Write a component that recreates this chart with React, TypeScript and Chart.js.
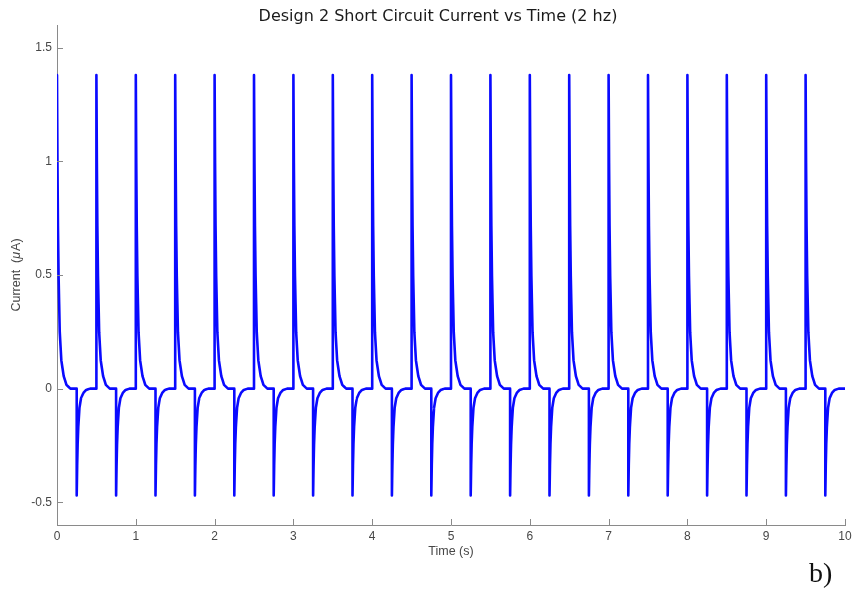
import React, { useEffect, useRef } from "react";
import { Chart, registerables } from "chart.js";

Chart.register(...registerables);

// Pulse onsets (s): rising edges every 0.5 s, falling edges halfway between
const POSITIVE_PULSE_TIMES = [0, 0.5, 1, 1.5, 2, 2.5, 3, 3.5, 4, 4.5, 5, 5.5, 6, 6.5, 7, 7.5, 8, 8.5, 9, 9.5];
const NEGATIVE_PULSE_TIMES = [0.25, 0.75, 1.25, 1.75, 2.25, 2.75, 3.25, 3.75, 4.25, 4.75, 5.25, 5.75, 6.25, 6.75, 7.25, 7.75, 8.25, 8.75, 9.25, 9.75];
const POSITIVE_PEAK = 1.38; // µA
const NEGATIVE_PEAK = -0.47; // µA

// Relaxation after each pulse: time since onset (s) and fraction of the peak remaining
const DECAY_OFFSETS = [0, 0.006, 0.012, 0.02, 0.035, 0.055, 0.085, 0.12, 0.17];
const DECAY_FRACTIONS = [1, 0.72, 0.52, 0.36, 0.18, 0.09, 0.04, 0.012, 0];

const END_TIME = 10;
const X_TICKS = [0, 1, 2, 3, 4, 5, 6, 7, 8, 9, 10];
const Y_TICKS = [-0.5, 0, 0.5, 1, 1.5];

const TITLE = "Design 2 Short Circuit Current vs Time (2 hz)";
const X_LABEL = "Time (s)";
const Y_LABEL_TEXT = "Current  (";
const Y_LABEL_MU = "\u03bc";
const Y_LABEL_END = "A)";
const PANEL_LABEL = "b)";

function buildTrace() {
  const events = [
    ...POSITIVE_PULSE_TIMES.map((t) => ({ t, peak: POSITIVE_PEAK })),
    ...NEGATIVE_PULSE_TIMES.map((t) => ({ t, peak: NEGATIVE_PEAK })),
  ].sort((a, b) => a.t - b.t);
  const pts: { x: number; y: number }[] = [];
  for (const ev of events) {
    if (ev.t > 0) pts.push({ x: ev.t, y: 0 });
    for (let i = 0; i < DECAY_OFFSETS.length; i++) {
      pts.push({ x: ev.t + DECAY_OFFSETS[i], y: ev.peak * DECAY_FRACTIONS[i] });
    }
  }
  pts.push({ x: END_TIME, y: 0 });
  return pts;
}

const AXIS_GRAY = "#8a8a8a";
const TEXT_GRAY = "#474747";
const SANS = "'Liberation Sans', Arial, sans-serif";

const decorations = {
  id: "decorations",
  afterDraw(chart: any) {
    const { ctx, chartArea, scales } = chart;
    const xs = scales.x;
    const ys = scales.y;
    ctx.save();
    // inward tick marks
    ctx.strokeStyle = AXIS_GRAY;
    ctx.lineWidth = 1;
    ctx.beginPath();
    for (const v of X_TICKS) {
      const px = Math.round(xs.getPixelForValue(v)) + 0.5;
      ctx.moveTo(px, chartArea.bottom);
      ctx.lineTo(px, chartArea.bottom - 6);
    }
    for (const v of Y_TICKS) {
      const py = Math.round(ys.getPixelForValue(v)) + 0.5;
      ctx.moveTo(chartArea.left, py);
      ctx.lineTo(chartArea.left + 6, py);
    }
    ctx.stroke();

    // title
    ctx.fillStyle = "#1a1a1a";
    ctx.font = "16px 'DejaVu Sans', sans-serif";
    ctx.textAlign = "center";
    ctx.textBaseline = "middle";
    ctx.fillText(TITLE, 438, 17);

    // x axis title
    ctx.fillStyle = TEXT_GRAY;
    ctx.font = `12.5px ${SANS}`;
    ctx.fillText(X_LABEL, (chartArea.left + chartArea.right) / 2, 552);

    // y axis title, with an italic mu
    ctx.save();
    ctx.translate(17, (chartArea.top + chartArea.bottom) / 2);
    ctx.rotate(-Math.PI / 2);
    const regular = `12.5px ${SANS}`;
    const italic = `italic 12.5px ${SANS}`;
    ctx.font = regular;
    const w1 = ctx.measureText(Y_LABEL_TEXT).width;
    const w3 = ctx.measureText(Y_LABEL_END).width;
    ctx.font = italic;
    const w2 = ctx.measureText(Y_LABEL_MU).width + 1;
    let x = -(w1 + w2 + w3) / 2;
    ctx.textAlign = "left";
    ctx.font = regular;
    ctx.fillText(Y_LABEL_TEXT, x, 0);
    x += w1;
    ctx.font = italic;
    ctx.fillText(Y_LABEL_MU, x, 0);
    x += w2;
    ctx.font = regular;
    ctx.fillText(Y_LABEL_END, x, 0);
    ctx.restore();

    // panel label
    ctx.fillStyle = "#111";
    ctx.font = "28px 'Liberation Serif', 'DejaVu Serif', serif";
    ctx.textAlign = "left";
    ctx.textBaseline = "alphabetic";
    ctx.fillText(PANEL_LABEL, 809, 582);
    ctx.restore();
  },
};

export default function App() {
  const canvasRef = useRef<HTMLCanvasElement | null>(null);

  useEffect(() => {
    if (!canvasRef.current) return;
    const chart = new Chart(canvasRef.current, {
      type: "line",
      data: {
        datasets: [
          {
            data: buildTrace(),
            borderColor: "#0a0aff",
            borderWidth: 2.6,
            pointRadius: 0,
            // a tiny tension keeps every vertex in the path (no pixel-column collapsing)
            tension: 0.000001,
            fill: false,
            borderJoinStyle: "round",
            borderCapStyle: "round",
          },
        ],
      },
      options: {
        responsive: false,
        animation: false,
        parsing: false,
        layout: { padding: { left: 0, right: 22, top: 25, bottom: 0 } },
        plugins: {
          legend: { display: false },
          title: { display: false },
          tooltip: { enabled: false },
        },
        scales: {
          x: {
            type: "linear",
            min: 0,
            max: END_TIME,
            afterBuildTicks: (scale: any) => {
              scale.ticks = X_TICKS.map((value) => ({ value }));
            },
            afterFit: (scale: any) => {
              scale.height = 73;
            },
            grid: { display: false, drawTicks: false },
            border: { display: true, color: AXIS_GRAY, width: 1 },
            ticks: {
              color: TEXT_GRAY,
              font: { size: 12, family: SANS },
              padding: 4,
              maxRotation: 0,
              callback: (v: any) => String(v),
            },
          },
          y: {
            type: "linear",
            min: -0.6,
            max: 1.6,
            afterBuildTicks: (scale: any) => {
              scale.ticks = Y_TICKS.map((value) => ({ value }));
            },
            afterFit: (scale: any) => {
              scale.width = 57;
            },
            grid: { display: false, drawTicks: false },
            border: { display: true, color: AXIS_GRAY, width: 1 },
            ticks: {
              color: TEXT_GRAY,
              font: { size: 12, family: SANS },
              padding: 5,
              callback: (v: any) => String(v),
            },
          },
        },
      },
      plugins: [decorations],
    });
    return () => chart.destroy();
  }, []);

  return (
    <div style={{ position: "fixed", left: 0, top: 0, width: 867, height: 598, background: "#fff" }}>
      <canvas ref={canvasRef} width={867} height={598} style={{ width: 867, height: 598 }} />
    </div>
  );
}
